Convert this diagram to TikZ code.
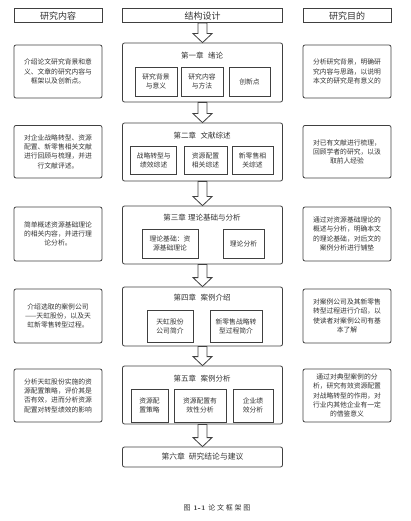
\documentclass[tikz,border=0pt]{standalone}
\usepackage{fontspec}
\newfontfamily\cjk{Noto Sans CJK SC}
\usetikzlibrary{calc,positioning}

\definecolor{boxline}{HTML}{404040}
\definecolor{boxtext}{HTML}{333333}

\tikzset{
	hdr/.style={draw=boxline, line width=0.8pt, minimum height=14pt, inner sep=0pt, font=\cjk\fontsize{9}{10}\selectfont, text=boxtext},
	sidebox/.style={draw=boxline, line width=0.8pt, rounded corners=2pt, minimum width=88pt, inner sep=0pt, align=center, font=\cjk\fontsize{6.8}{9.3}\selectfont, text=boxtext},
	chapbox/.style={draw=boxline, line width=0.8pt, rounded corners=2pt, minimum width=160pt, inner sep=0pt},
	chaptitle/.style={inner sep=0pt, font=\cjk\fontsize{7.5}{9}\selectfont, text=boxtext},
	subbox/.style={draw=boxline, line width=0.8pt, inner sep=0pt, align=center, font=\cjk\fontsize{6.8}{9}\selectfont, text=boxtext},
	blockarr/.style={draw=boxline, line width=0.8pt, fill=white, line join=miter}
}

% hollow down arrow from one node to the next
\newcommand{\hollowarrow}[2]{%
	\draw[blockarr] let \p1=(#1.south), \p2=(#2.north) in
		(\x1-4.5pt,\y1) -- (\x1+4.5pt,\y1) -- (\x1+4.5pt,\y2+9pt) -- (\x1+9.5pt,\y2+9pt)
		-- (\x1,\y2) -- (\x1-9.5pt,\y2+9pt) -- (\x1-4.5pt,\y2+9pt) -- cycle;}

\begin{document}
\begin{tikzpicture}[x=1pt,y=-1pt]
	\useasboundingbox (0,0) rectangle (411,521);

	% headers
	\node[hdr, minimum width=88pt] (hdrL) at (58,15.7) {研究内容};
	\node[hdr, minimum width=160pt] (hdrM) at (202.5,15.7) {结构设计};
	\node[hdr, minimum width=88pt] (hdrR) at (347,15.7) {研究目的};

	% chapter boxes
	\node[chapbox, minimum height=59pt] (ch1) at (202.5,72.5) {};
	\node[chapbox, minimum height=58pt] (ch2) at (202.5,152) {};
	\node[chapbox, minimum height=58pt] (ch3) at (202.5,235) {};
	\node[chapbox, minimum height=59pt] (ch4) at (202.5,316.5) {};
	\node[chapbox, minimum height=58pt] (ch5) at (202.5,395) {};
	\node[chapbox, minimum height=20pt, font=\cjk\fontsize{7.8}{9}\selectfont, text=boxtext] (ch6) at (202.5,457) {第六章\hspace{0.5em}研究结论与建议};

	\node[chaptitle] (t1) at (202,56) {第一章\hspace{0.6em}绪论};
	\node[chaptitle] (t2) at (202,136) {第二章\hspace{0.6em}文献综述};
	\node[chaptitle] (t3) at (202,218) {第三章\hspace{0.3em}理论基础与分析};
	\node[chaptitle] (t4) at (202,298) {第四章\hspace{0.6em}案例介绍};
	\node[chaptitle] (t5) at (202,379) {第五章\hspace{0.6em}案例分析};

	% sub boxes
	\node[subbox, minimum width=42pt, minimum height=29pt] (ch1a) at (156,81.5) {研究背景\\与意义};
	\node[subbox, minimum width=42pt, minimum height=29pt] (ch1b) at (202,81.5) {研究内容\\与方法};
	\node[subbox, minimum width=41pt, minimum height=29pt] (ch1c) at (249.5,81.5) {创新点};

	\node[subbox, minimum width=46pt, minimum height=28pt] (ch2a) at (153.7,160) {战略转型与\\绩效综述};
	\node[subbox, minimum width=43pt, minimum height=28pt] (ch2b) at (205.5,160) {资源配置\\相关综述};
	\node[subbox, minimum width=41pt, minimum height=28pt] (ch2c) at (252.5,160) {新零售相\\关综述};

	\node[subbox, minimum width=56pt, minimum height=29pt] (ch3a) at (170,243.5) {理论基础：资\\源基础理论};
	\node[subbox, minimum width=41pt, minimum height=29pt] (ch3b) at (243.5,243.5) {理论分析};

	\node[subbox, minimum width=46pt, minimum height=32pt] (ch4a) at (170,326) {天虹股份\\公司简介};
	\node[subbox, minimum width=52pt, minimum height=32pt] (ch4b) at (236,326) {新零售战略转\\型过程简介};

	\node[subbox, minimum width=37pt, minimum height=33pt] (ch5a) at (149.5,405.5) {资源配\\置策略};
	\node[subbox, minimum width=52pt, minimum height=33pt] (ch5b) at (200,405.5) {资源配置有\\效性分析};
	\node[subbox, minimum width=40pt, minimum height=33pt] (ch5c) at (253,405.5) {企业绩\\效分析};

	% left column
	\node[sidebox, minimum height=53pt] (l1) at (58,71.5) {介绍论文研究背景和意\\义、文章的研究内容与\\框架以及创新点。};
	\node[sidebox, minimum height=52.5pt] (l2) at (58,151.7) {对企业战略转型、资源\\配置、新零售相关文献\\进行回顾与梳理，并进\\行文献评述。};
	\node[sidebox, minimum height=54pt] (l3) at (58,234) {简单概述资源基础理论\\的相关内容，并进行理\\论分析。};
	\node[sidebox, minimum height=54pt] (l4) at (58,316) {介绍选取的案例公司\\——天虹股份，以及天\\虹新零售转型过程。};
	\node[sidebox, minimum height=53pt] (l5) at (58,395.5) {分析天虹股份实施的资\\源配置策略，评价其是\\否有效，进而分析资源\\配置对转型绩效的影响};

	% right column
	\node[sidebox, minimum height=53pt] (r1) at (347,71.5) {分析研究背景，明确研\\究内容与思路，以说明\\本文的研究是有意义的};
	\node[sidebox, minimum height=52.5pt] (r2) at (347,151.7) {对已有文献进行梳理，\\回顾学者的研究，以汲\\取前人经验};
	\node[sidebox, minimum height=54pt] (r3) at (347,234) {通过对资源基础理论的\\概述与分析，明确本文\\的理论基础，对后文的\\案例分析进行铺垫};
	\node[sidebox, minimum height=54pt] (r4) at (347,316) {对案例公司及其新零售\\转型过程进行介绍，以\\使读者对案例公司有基\\本了解};
	\node[sidebox, minimum height=53pt] (r5) at (347,395.5) {通过对典型案例的分\\析，研究有效资源配置\\对战略转型的作用，对\\行业内其他企业有一定\\的借鉴意义};

	% arrows down the middle
	\foreach \a/\b in {hdrM/ch1, ch1/ch2, ch2/ch3, ch3/ch4, ch4/ch5, ch5/ch6}
		\hollowarrow{\a}{\b};

	% caption
	\node[inner sep=0pt, text=boxtext, font=\fontsize{7}{8}\selectfont] (cap) at (217,508) {{\cjk 图}\hspace{0.4em}\textbf{1-1}\hspace{0.4em}{\cjk 论\hspace{0.25em}文\hspace{0.25em}框\hspace{0.25em}架\hspace{0.25em}图}};
\end{tikzpicture}
\end{document}
